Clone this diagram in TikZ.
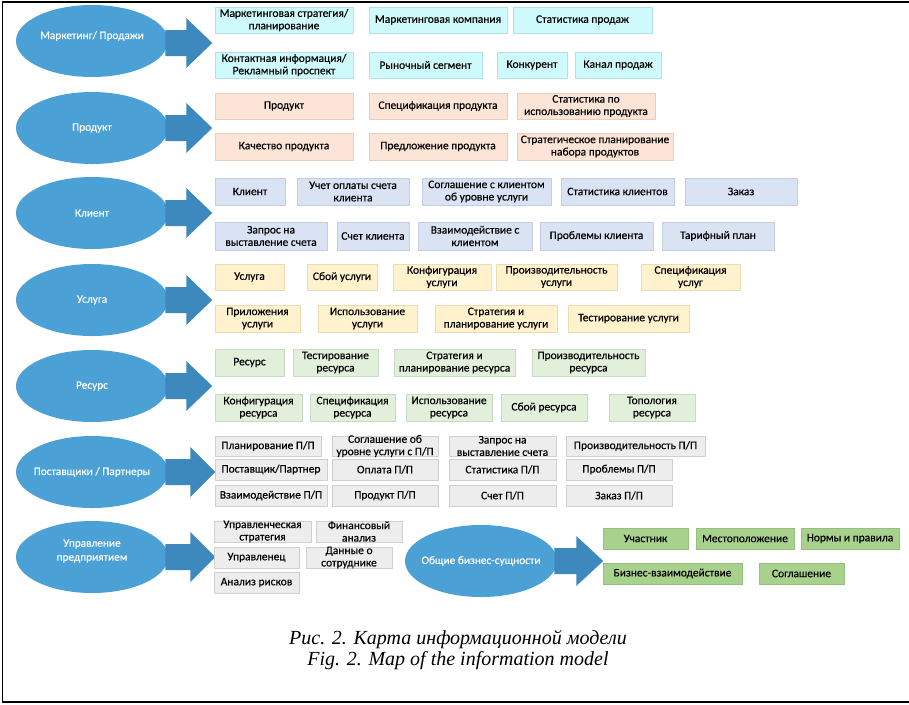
\documentclass[tikz,border=0pt]{standalone}
\usepackage{fontspec}
\setmainfont{Carlito}
\newfontfamily\boxfont{Carlito}[FakeBold=0.35]
\newfontfamily\capfont{Liberation Serif}
\usetikzlibrary{calc,shadows,shapes.geometric}
\definecolor{cyF}{RGB}{207,250,252}\definecolor{cyD}{RGB}{178,226,233}
\definecolor{peF}{RGB}{252,228,214}\definecolor{peD}{RGB}{232,205,190}
\definecolor{bgF}{RGB}{218,227,243}\definecolor{bgD}{RGB}{196,206,224}
\definecolor{yeF}{RGB}{255,242,204}\definecolor{yeD}{RGB}{235,220,180}
\definecolor{lgF}{RGB}{226,239,218}\definecolor{lgD}{RGB}{202,218,193}
\definecolor{gyF}{RGB}{237,237,237}\definecolor{gyD}{RGB}{208,208,208}
\definecolor{gnF}{RGB}{169,209,142}\definecolor{gnD}{RGB}{150,190,125}
\definecolor{ellF}{RGB}{75,160,213}
\definecolor{arrF}{RGB}{61,137,190}
\newcommand\bx[7]{\node[#1, minimum width={(#5-#3)*0.75pt}, minimum height={(#6-#4)*0.75pt}] (#2) at ({(#3+#5)/2},{(#4+#6)/2}) {};
  \node[lbl] (#2t) at (#2.center) {#7};}
\newcommand\barrow[3]{\fill[arrF] ($(#1.east)+(-3,-13)$) -- ($(#1.east)+(#2,-13)$) -- ($(#1.east)+(#2,-25)$) -- ($(#1.east)+(#3,0)$) -- ($(#1.east)+(#2,25)$) -- ($(#1.east)+(#2,13)$) -- ($(#1.east)+(-3,13)$) -- cycle;}
\begin{document}
\begin{tikzpicture}[x=0.75pt,y=-0.75pt,
  box/.style={rectangle, inner sep=0pt, line width=0.5pt, drop shadow={shadow xshift=0.7pt, shadow yshift=-0.7pt, opacity=0.18, fill=black}},
  cy/.style={box, fill=cyF, draw=cyD},
  pe/.style={box, fill=peF, draw=peD},
  bg/.style={box, fill=bgF, draw=bgD},
  ye/.style={box, fill=yeF, draw=yeD},
  lg/.style={box, fill=lgF, draw=lgD},
  gy/.style={box, fill=gyF, draw=gyD},
  gn/.style={box, fill=gnF, draw=gnD},
  lbl/.style={font=\boxfont\fontsize{8.6}{9.3}\selectfont, align=center, inner sep=0pt, text=black},
  ell/.style={ellipse, fill=ellF, minimum width=114pt, minimum height=54pt, inner sep=0pt},
  elbl/.style={font=\boxfont\fontsize{8.5}{10.5}\selectfont, text=white, align=center, inner sep=0pt},
  captxt/.style={font=\capfont\itshape\fontsize{15}{17}\selectfont, inner sep=0pt}]
\useasboundingbox (0,0) rectangle (909,704);
\fill[white] (0,0) rectangle (909,704);
\draw[line width=1.2pt] (909,2) -- (2.5,2) -- (2.5,702) -- (909,702);

% ellipses
\node[ell] (e1) at (92,41) {};
\node[elbl] (e1t) at (92,36) {Маркетинг/ Продажи};
\node[ell] (e2) at (92,128) {}; \node[elbl] (e2t) at (e2.center) {Продукт};
\node[ell] (e3) at (92,213) {}; \node[elbl] (e3t) at (e3.center) {Клиент};
\node[ell] (e4) at (92,300) {}; \node[elbl] (e4t) at (e4.center) {Услуга};
\node[ell] (e5) at (92,386) {}; \node[elbl] (e5t) at (e5.center) {Ресурс};
\node[ell] (e6) at (92,472) {}; \node[elbl] (e6t) at (e6.center) {Поставщики / Партнеры};
\node[ell] (e7) at (92,557) {}; \node[elbl] (e7t) at (92,551) {Управление\\предприятием};
\node[ell] (e8) at (481,561) {}; \node[elbl] (e8t) at (e8.center) {Общие бизнес-сущности};

% block arrows
\coordinate (a1) at ($(e1.east)+(0,2)$);
\fill[arrF] ($(a1)+(-3,-13)$) -- ($(a1)+(18,-13)$) -- ($(a1)+(18,-25)$) -- ($(a1)+(44,0)$) -- ($(a1)+(18,25)$) -- ($(a1)+(18,13)$) -- ($(a1)+(-3,13)$) -- cycle;
\barrow{e2}{18}{44}
\barrow{e3}{18}{44}
\barrow{e4}{18}{44}
\barrow{e5}{18}{44}
\barrow{e6}{22}{47}
\barrow{e7}{22}{47}
\barrow{e8}{19}{46}

% Marketing
\bx{cy}{m1}{215}{7}{353}{33}{Маркетинговая стратегия/\\планирование}
\bx{cy}{m2}{369}{7}{507}{33}{Маркетинговая компания}
\bx{cy}{m3}{513}{7}{652}{33}{Статистика продаж}
\bx{cy}{m4}{215}{52}{353}{78}{Контактная информация/\\Рекламный проспект}
\bx{cy}{m5}{369}{52}{482}{78}{Рыночный сегмент}
\bx{cy}{m6}{497}{52}{567}{78}{Конкурент}
\bx{cy}{m7}{575}{52}{661}{78}{Канал продаж}

% Product
\bx{pe}{p1}{215}{93}{353}{119}{Продукт}
\bx{pe}{p2}{369}{93}{507}{119}{Спецификация продукта}
\bx{pe}{p3}{517}{93}{655}{119}{Статистика по\\использованию продукта}
\bx{pe}{p4}{215}{133}{353}{160}{Качество продукта}
\bx{pe}{p5}{369}{133}{507}{160}{Предложение продукта}
\bx{pe}{p6}{517}{133}{673}{160}{Стратегическое планирование\\набора продуктов}

% Client
\bx{bg}{c1}{215}{178}{285}{205}{Клиент}
\bx{bg}{c2}{297}{178}{409}{205}{Учет оплаты счета\\клиента}
\bx{bg}{c3}{422}{178}{551}{205}{Соглашение с клиентом\\об уровне услуги}
\bx{bg}{c4}{561}{178}{674}{205}{Статистика клиентов}
\bx{bg}{c5}{685}{178}{797}{205}{Заказ}
\bx{bg}{c6}{215}{222}{327}{250}{Запрос на\\выставление счета}
\bx{bg}{c7}{337}{222}{409}{250}{Счет клиента}
\bx{bg}{c8}{418}{222}{532}{250}{Взаимодействие с\\клиентом}
\bx{bg}{c9}{540}{222}{653}{250}{Проблемы клиента}
\bx{bg}{c10}{662}{222}{774}{250}{Тарифный план}

% Service
\bx{ye}{s1}{215}{264}{284}{290}{Услуга}
\bx{ye}{s2}{307}{264}{377}{290}{Сбой услуги}
\bx{ye}{s3}{393}{264}{491}{290}{Конфигурация\\услуги}
\bx{ye}{s4}{496}{264}{617}{290}{Производительность\\услуги}
\bx{ye}{s5}{641}{264}{740}{290}{Спецификация\\услуг}
\bx{ye}{s6}{215}{305}{300}{332}{Приложения\\услуги}
\bx{ye}{s7}{318}{305}{417}{332}{Использование\\услуги}
\bx{ye}{s8}{435}{305}{557}{332}{Стратегия и\\планирование услуги}
\bx{ye}{s9}{568}{305}{689}{332}{Тестирование услуги}

% Resource
\bx{lg}{r1}{215}{349}{284}{376}{Ресурс}
\bx{lg}{r2}{293}{349}{378}{376}{Тестирование\\ресурса}
\bx{lg}{r3}{394}{349}{515}{376}{Стратегия и\\планирование ресурса}
\bx{lg}{r4}{532}{349}{645}{376}{Производительность\\ресурса}
\bx{lg}{r5}{215}{394}{302}{421}{Конфигурация\\ресурса}
\bx{lg}{r6}{310}{394}{395}{421}{Спецификация\\ресурса}
\bx{lg}{r7}{406}{394}{492}{421}{Использование\\ресурса}
\bx{lg}{r8}{501}{394}{587}{421}{Сбой ресурса}
\bx{lg}{r9}{609}{394}{695}{421}{Топология\\ресурса}

% Partners
\bx{gy}{q1}{215}{436}{321}{456}{Планирование П/П}
\bx{gy}{q2}{332}{436}{438}{456}{Соглашение об\\уровне услуги с П/П}
\bx{gy}{q3}{449}{436}{556}{456}{Запрос на\\выставление счета}
\bx{gy}{q4}{566}{436}{705}{456}{Производительность П/П}
\bx{gy}{q5}{215}{459}{327}{480}{Поставщик/Партнер}
\bx{gy}{q6}{332}{459}{438}{480}{Оплата П/П}
\bx{gy}{q7}{449}{459}{556}{480}{Статистика П/П}
\bx{gy}{q8}{566}{459}{672}{480}{Проблемы П/П}
\bx{gy}{q9}{215}{485}{327}{506}{Взаимодействие П/П}
\bx{gy}{q10}{332}{485}{438}{506}{Продукт П/П}
\bx{gy}{q11}{449}{485}{556}{506}{Счет П/П}
\bx{gy}{q12}{566}{485}{672}{506}{Заказ П/П}

% Enterprise
\bx{gy}{u1}{214}{521}{311}{542}{Управленческая\\стратегия}
\bx{gy}{u2}{316}{521}{402}{542}{Финансовый\\анализ}
\bx{gy}{u3}{214}{547}{299}{568}{Управленец}
\bx{gy}{u4}{306}{547}{392}{568}{Данные о\\сотруднике}
\bx{gy}{u5}{214}{572}{299}{593}{Анализ рисков}

% Business entities
\bx{gn}{b1}{603}{528}{688}{549}{Участник}
\bx{gn}{b2}{696}{528}{794}{549}{Местоположение}
\bx{gn}{b3}{801}{528}{899}{549}{Нормы и правила}
\bx{gn}{b4}{603}{563}{742}{584}{Бизнес-взаимодействие}
\bx{gn}{b5}{759}{563}{844}{584}{Соглашение}

% caption
\node[captxt] (cap1) at (458,639) {Рис. 2. Карта информационной модели};
\node[captxt] (cap2) at (458,661) {Fig. 2. Map of the information model};
\end{tikzpicture}
\end{document}
